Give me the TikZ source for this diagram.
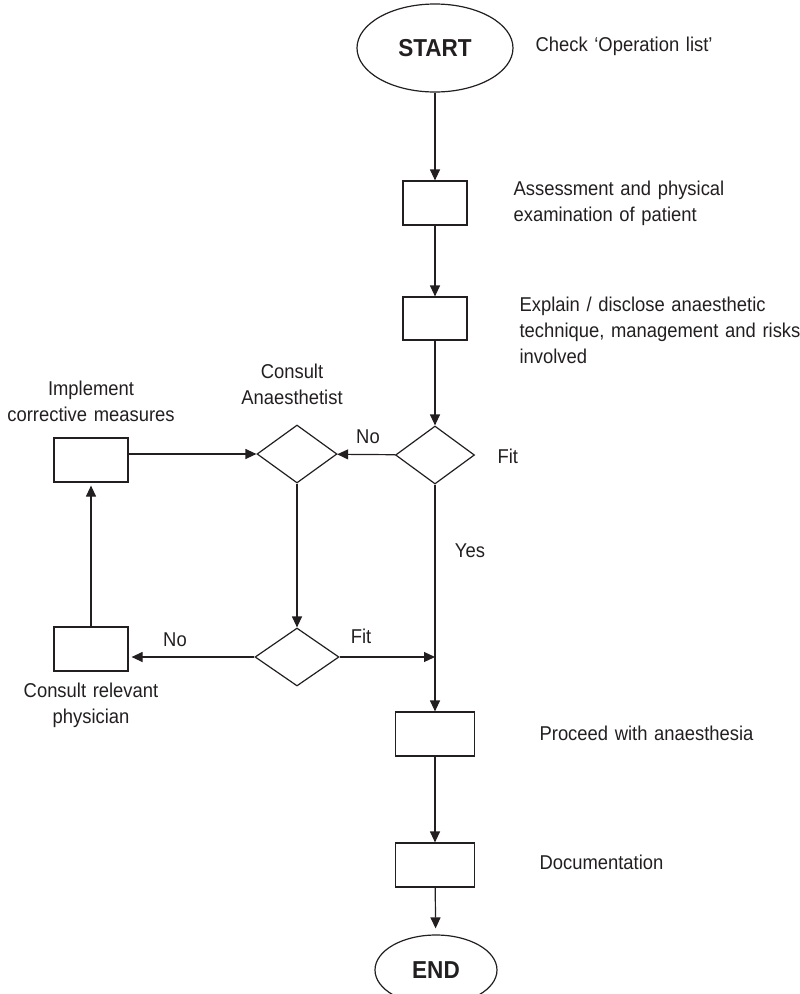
\documentclass[tikz,border=0pt]{standalone}
\usepackage{fontspec}
\setmainfont{Liberation Sans}[FakeStretch=0.92]
\usetikzlibrary{shapes.geometric,arrows.meta}
\definecolor{ink}{HTML}{231F20}

\begin{document}
\begin{tikzpicture}[x=1pt,y=-1pt,line width=1.2pt,
  every node/.style={text=ink},
  terminal/.style={draw=ink,ellipse,inner sep=0pt,font=\fontsize{24.5}{28}\selectfont\bfseries},
  stepbox/.style={draw=ink,rectangle,inner sep=0pt},
  decision/.style={draw=ink,diamond,inner sep=0pt},
  note/.style={font=\fontsize{20}{26}\selectfont,inner sep=0pt,text width=300pt,align=left,anchor=base west},
  cnote/.style={font=\fontsize{20}{26.5}\selectfont,inner sep=0pt,text width=220pt,align=center,anchor=base},
  tag/.style={font=\fontsize{20}{26}\selectfont,inner sep=0pt,anchor=base},
  flow/.style={draw=ink,-{Triangle[length=11pt,width=10pt]}}]

\useasboundingbox (0,0) rectangle (800,994);

% main column
\node[terminal,minimum width=156pt,minimum height=88pt] (start) at (435,48) {START};
\node[stepbox,minimum width=64pt,minimum height=44pt] (b1) at (435,203) {};
\node[stepbox,minimum width=64pt,minimum height=43pt] (b2) at (435,318.5) {};
\node[decision,minimum width=79pt,minimum height=58pt] (d1) at (435,455) {};
\node[stepbox,minimum width=79pt,minimum height=44pt] (b5) at (435,734) {};
\node[stepbox,minimum width=79pt,minimum height=44pt] (b6) at (435,865) {};
\node[terminal,minimum width=122pt,minimum height=70pt] (end) at (436,970) {END};

% corrective loop
\node[decision,minimum width=80pt,minimum height=58pt] (d2) at (297,454) {};
\node[stepbox,minimum width=74pt,minimum height=44pt] (b3) at (91,460) {};
\node[decision,minimum width=84pt,minimum height=58pt] (d3) at (297,657) {};
\node[stepbox,minimum width=74pt,minimum height=44pt] (b4) at (91,649) {};

% descriptions
\node[note] (tcheck) at (535,51) {Check ‘Operation list’};
\node[note] (tassess) at (513,195) {Assessment and physical\\examination of patient};
\node[note] (texplain) at (519,311) {Explain / disclose anaesthetic\\technique, management and risks\\involved};
\node[cnote] (tconsult) at (292,378) {Consult\\Anaesthetist};
\node[cnote] (timpl) at (91,395) {Implement\\corrective measures};
\node[cnote] (tphys) at (91,697) {Consult relevant\\physician};
\node[note] (tproceed) at (539,740) {Proceed with anaesthesia};
\node[note] (tdoc) at (539,869) {Documentation};

% branch labels
\node[tag] (tnoa) at (368,443) {No};
\node[tag,anchor=base west] (tfita) at (497,463) {Fit};
\node[tag] (tyes) at (470,557) {Yes};
\node[tag] (tnob) at (175,646) {No};
\node[tag] (tfitb) at (361,643) {Fit};

% connectors
\draw[flow] (start) -- (b1);
\draw[flow] (b1) -- (b2);
\draw[flow] (b2) -- (d1);
\draw[flow] (d1) -- (d2);
\draw[flow] (d2.west -| b3.east) -- (d2.west);
\draw[flow] (d2) -- (d3);
\draw[flow,shorten >=3pt] (d3.west) -- (d3.west -| b4.east);
\draw[flow,shorten >=3pt] (b4) -- (b3);
\coordinate (merge) at (d3.east -| b5.north);
\draw[flow] (d3.east) -- (merge);
\draw[flow] (d1) -- (b5);
\draw[flow] (b5) -- (b6);
\draw[flow,shorten >=6pt] (b6) -- (end);
\end{tikzpicture}
\end{document}
